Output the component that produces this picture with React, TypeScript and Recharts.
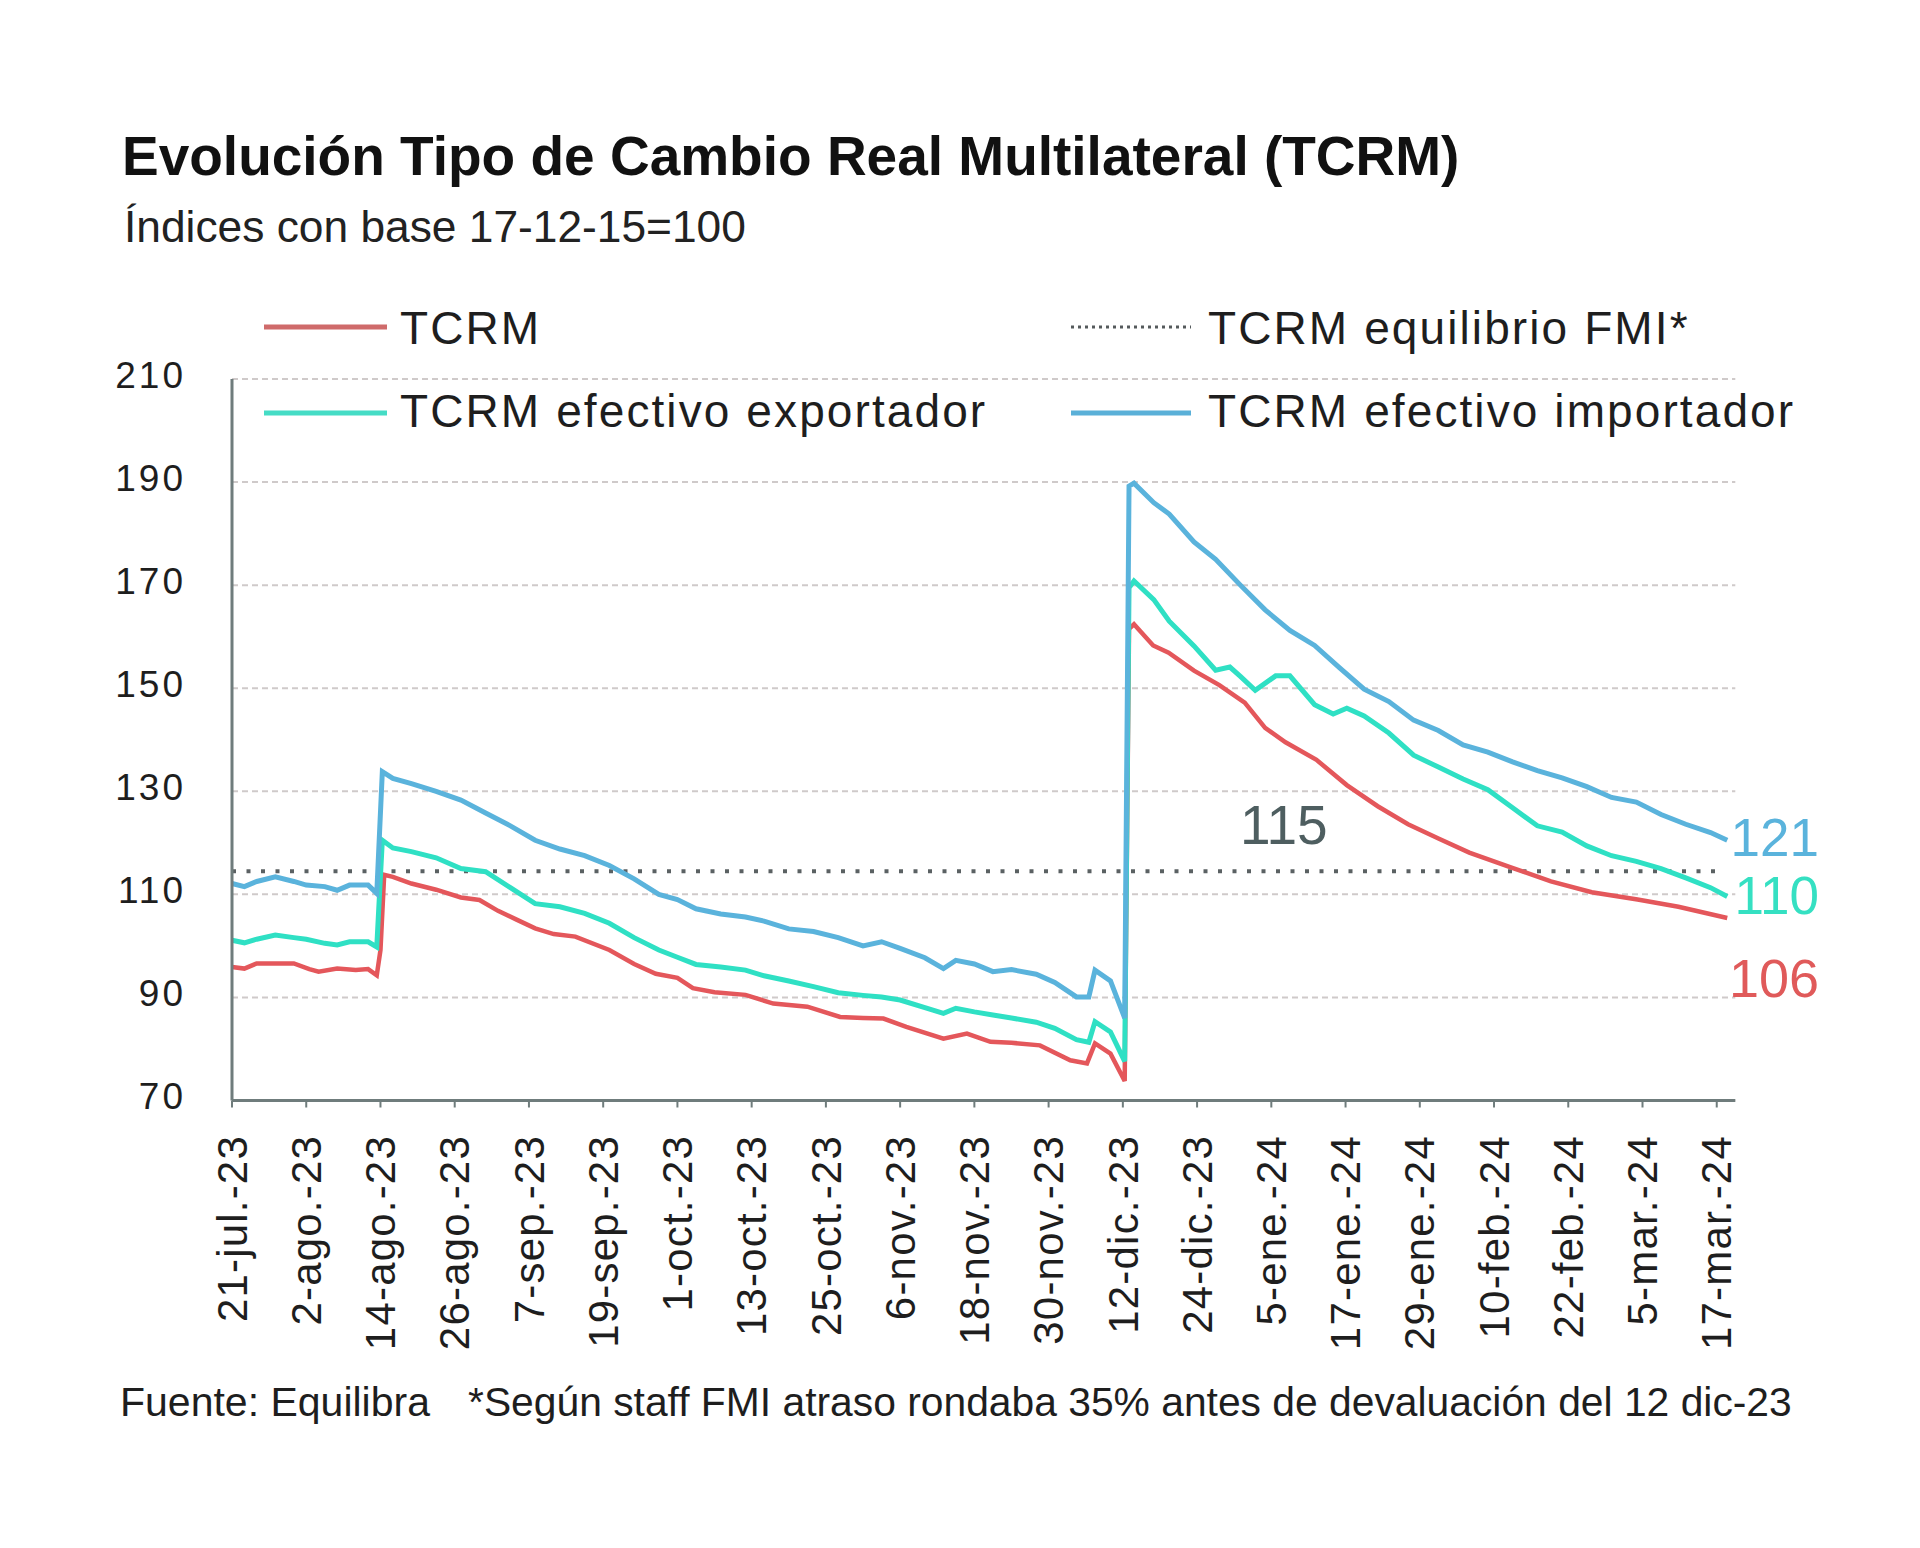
import React from 'react';
import { LineChart, Line, XAxis, YAxis, CartesianGrid } from 'recharts';

const FONT = '"Liberation Sans", Arial, Helvetica, sans-serif';

const tickDays = [0, 12, 24, 36, 48, 60, 72, 84, 96, 108, 120, 132, 144, 156, 168, 180, 192, 204, 216, 228, 240];
const tickLabels = [
  '21-jul.-23', '2-ago.-23', '14-ago.-23', '26-ago.-23', '7-sep.-23', '19-sep.-23', '1-oct.-23',
  '13-oct.-23', '25-oct.-23', '6-nov.-23', '18-nov.-23', '30-nov.-23', '12-dic.-23', '24-dic.-23',
  '5-ene.-24', '17-ene.-24', '29-ene.-24', '10-feb.-24', '22-feb.-24', '5-mar.-24', '17-mar.-24',
];
const yTicks = [70, 90, 110, 130, 150, 170, 190, 210];

// TCRM
const tcrmDays = [0, 2, 4, 7, 10, 12.5, 14, 17, 20, 22, 23.4, 24.0, 24.6, 26, 29, 33, 37, 40, 43, 46, 49, 52, 55.5, 61, 65, 68.5, 72, 74.5, 78, 83, 87.5, 93, 98.3, 102, 105.3, 109, 115, 118.8, 122.6, 126, 130.6, 135.5, 138.2, 139.5, 142, 144.3, 145.0, 145.8, 148.9, 151.4, 155.5, 159.6, 163.7, 167, 170.3, 175.3, 180.2, 185.2, 190.1, 195.1, 200, 206.6, 213.2, 219.8, 227.2, 233.8, 241.7];
const tcrmVals = [95.9, 95.6, 96.6, 96.6, 96.6, 95.5, 95.0, 95.6, 95.3, 95.5, 94.3, 99.2, 113.8, 113.4, 112.1, 110.9, 109.4, 108.9, 106.8, 105.1, 103.4, 102.3, 101.8, 99.2, 96.5, 94.6, 93.8, 91.8, 91.0, 90.5, 88.8, 88.2, 86.2, 86.0, 85.9, 84.3, 82.0, 83.0, 81.4, 81.2, 80.7, 77.8, 77.2, 81.1, 79.1, 73.8, 161.5, 162.4, 158.3, 156.9, 153.4, 150.6, 147.2, 142.3, 139.5, 136.1, 131.2, 127.1, 123.6, 120.8, 118.1, 115.3, 112.5, 110.4, 109.0, 107.6, 105.4];

// TCRM efectivo importador
const impDays = [0, 2, 4, 7, 10, 12, 15, 17, 19, 22, 23.4, 24.3, 26, 29, 33, 37, 41, 45, 49, 53, 57, 61, 65, 69, 72, 75, 79, 83, 86, 90, 94, 98, 102, 105, 108, 112, 115, 117, 120, 123, 126, 130, 133, 136.5, 138.5, 139.5, 142, 144.3, 145.0, 145.8, 149, 151.5, 155.5, 159, 163, 167, 171, 175, 179, 183, 187, 191, 195, 199, 203, 207, 211, 215, 219, 223, 227, 231, 235, 239, 241.7];
const impVals = [112.1, 111.5, 112.5, 113.4, 112.5, 111.8, 111.5, 110.8, 111.8, 111.8, 110.2, 133.8, 132.5, 131.5, 130, 128.3, 125.8, 123.3, 120.5, 118.8, 117.5, 115.6, 113.0, 110.0, 109.0, 107.2, 106.2, 105.6, 104.8, 103.3, 102.8, 101.6, 100.0, 100.8, 99.5, 97.7, 95.6, 97.2, 96.5, 95.0, 95.4, 94.5, 92.9, 90.1, 90.1, 95.3, 93.2, 86.0, 189.2, 189.8, 186.0, 183.8, 178.4, 175.0, 170.0, 165.2, 161.2, 158.3, 154.0, 149.8, 147.4, 143.8, 141.8, 139.0, 137.6, 135.7, 134.0, 132.6, 130.9, 128.8, 127.9, 125.5, 123.6, 122.0, 120.5];

// TCRM efectivo exportador
const expDays = [0, 2, 4, 7, 10, 12, 15, 17, 19, 22, 23.4, 24.3, 26, 29, 33, 37, 41, 45, 49, 53, 57, 61, 65, 69, 72, 75, 79, 83, 86, 90, 94, 98, 102, 105, 108, 112, 115, 117, 120, 123, 126, 130, 133, 136.5, 138.5, 139.5, 142, 144.3, 145.0, 145.8, 149, 151.5, 155.5, 159, 161.3, 163, 165.4, 168.7, 171, 175, 178, 180.2, 183, 187, 191, 195, 199, 203, 207, 211, 215, 219, 223, 227, 231, 235, 239, 241.7];
const expVals = [101.1, 100.6, 101.3, 102.1, 101.6, 101.3, 100.5, 100.2, 100.8, 100.8, 99.8, 120.5, 119.0, 118.3, 117.1, 115.0, 114.4, 111.3, 108.2, 107.6, 106.3, 104.4, 101.6, 99.2, 97.8, 96.4, 95.9, 95.3, 94.2, 93.2, 92.1, 90.9, 90.4, 90.1, 89.5, 88.0, 86.9, 87.9, 87.2, 86.6, 86.0, 85.2, 84.0, 81.8, 81.3, 85.3, 83.3, 77.6, 169.5, 170.8, 167.2, 163.0, 158.2, 153.5, 154.1, 152.3, 149.6, 152.4, 152.4, 146.8, 145.0, 146.1, 144.6, 141.3, 137.0, 134.7, 132.4, 130.3, 126.8, 123.3, 122.1, 119.4, 117.5, 116.4, 115.0, 113.2, 111.3, 109.6];

// TCRM equilibrio FMI
const eqDays = [0, 240];
const eqVals = [114.5, 114.5];

const toPoints = (days: number[], vals: number[]) => days.map((d, i) => ({ day: d, v: vals[i] }));

const tcrmData = toPoints(tcrmDays, tcrmVals);
const impData = toPoints(impDays, impVals);
const expData = toPoints(expDays, expVals);
const eqData = toPoints(eqDays, eqVals);

const C_RED = '#e4575b';
const C_CYAN = '#2fe0c4';
const C_BLUE = '#5ab3dc';
const C_AXIS = '#6f7c7c';
const C_TEXT = '#1e1e1e';

const XTick = (props: any) => {
  const { x, y, payload } = props;
  const idx = tickDays.indexOf(payload.value);
  const label = idx >= 0 ? tickLabels[idx] : '';
  return (
    <text
      x={x}
      y={y}
      transform={`rotate(-90, ${x}, ${y})`}
      textAnchor="end"
      dy="0.35em"
      fontSize={42}
      letterSpacing={1.2}
      fill={C_TEXT}
      fontFamily={FONT}
    >
      {label}
    </text>
  );
};

const YTick = (props: any) => {
  const { x, y, payload } = props;
  return (
    <text x={x} y={y - 4} textAnchor="end" dy="0.35em" fontSize={37} letterSpacing={3} fill={C_TEXT} fontFamily={FONT}>
      {payload.value}
    </text>
  );
};

export default function App() {
  return (
    <div style={{ position: 'absolute', left: 0, top: 0, width: 1920, height: 1548, background: '#ffffff' }}>
      <LineChart
        width={1920}
        height={1548}
        margin={{ top: 379, right: 184.7, bottom: 197.5, left: 0 }}
      >
        <CartesianGrid vertical={false} stroke="#cfcaca" strokeDasharray="6 4" strokeWidth={2} />
        <XAxis
          type="number"
          dataKey="day"
          domain={[0, 243]}
          ticks={tickDays}
          interval={0}
          height={250}
          tickSize={7}
          tickMargin={27.5}
          tick={XTick}
          axisLine={{ stroke: C_AXIS, strokeWidth: 3 }}
          tickLine={{ stroke: C_AXIS, strokeWidth: 2 }}
          allowDuplicatedCategory={false}
        />
        <YAxis
          type="number"
          domain={[70, 210]}
          ticks={yTicks}
          interval={0}
          width={232}
          tickSize={0}
          tickMargin={46}
          tick={YTick}
          tickLine={false}
          axisLine={{ stroke: C_AXIS, strokeWidth: 3 }}
        />
        <Line
          data={eqData}
          dataKey="v"
          type="linear"
          stroke="#5b6163"
          strokeWidth={4}
          strokeDasharray="4 10.5"
          dot={false}
          activeDot={false}
          isAnimationActive={false}
        />
        <Line
          data={tcrmData}
          dataKey="v"
          type="linear"
          stroke={C_RED}
          strokeWidth={4.5}
          dot={false}
          activeDot={false}
          isAnimationActive={false}
        />
        <Line
          data={expData}
          dataKey="v"
          type="linear"
          stroke={C_CYAN}
          strokeWidth={5}
          dot={false}
          activeDot={false}
          isAnimationActive={false}
        />
        <Line
          data={impData}
          dataKey="v"
          type="linear"
          stroke={C_BLUE}
          strokeWidth={5}
          dot={false}
          activeDot={false}
          isAnimationActive={false}
        />
      </LineChart>

      <svg
        width={1920}
        height={1548}
        style={{ position: 'absolute', left: 0, top: 0, pointerEvents: 'none' }}
        fontFamily={FONT}
      >
        <text x={122} y={175} fontSize={55} fontWeight="bold" fill="#111">
          Evolución Tipo de Cambio Real Multilateral (TCRM)
        </text>
        <text x={124} y={242} fontSize={44.3} fill="#222">
          Índices con base 17-12-15=100
        </text>

        {/* Legend */}
        <line x1={264} y1={327} x2={387} y2={327} stroke="#cf6b6b" strokeWidth={5} />
        <text x={400} y={343.5} fontSize={46} letterSpacing={2.1} fill={C_TEXT}>TCRM</text>
        <line x1={1071} y1={327} x2={1191} y2={327} stroke="#555a5c" strokeWidth={3} strokeDasharray="3 4" />
        <text x={1208} y={343.5} fontSize={46} letterSpacing={2.1} fill={C_TEXT}>TCRM equilibrio FMI*</text>
        <line x1={264} y1={413} x2={387} y2={413} stroke="#45dcc5" strokeWidth={5} />
        <text x={400} y={427} fontSize={46} letterSpacing={2.1} fill={C_TEXT}>TCRM efectivo exportador</text>
        <line x1={1071} y1={413} x2={1191} y2={413} stroke="#5ab0d8" strokeWidth={5} />
        <text x={1208} y={427} fontSize={46} letterSpacing={2.1} fill={C_TEXT}>TCRM efectivo importador</text>

        {/* Value labels */}
        <text x={1240} y={844} fontSize={55} fill="#4e5e60">115</text>
        <text x={1819} y={856} fontSize={53} textAnchor="end" fill={C_BLUE}>121</text>
        <text x={1819} y={914} fontSize={53} textAnchor="end" fill="#35e0c2">110</text>
        <text x={1819} y={997} fontSize={54} textAnchor="end" fill="#e05a5a">106</text>

        {/* Footnote */}
        <text x={120} y={1416} fontSize={41} fill={C_TEXT}>Fuente: Equilibra</text>
        <text x={468} y={1416} fontSize={40.8} fill={C_TEXT}>
          *Según staff FMI atraso rondaba 35% antes de devaluación del 12 dic-23
        </text>
      </svg>
    </div>
  );
}
